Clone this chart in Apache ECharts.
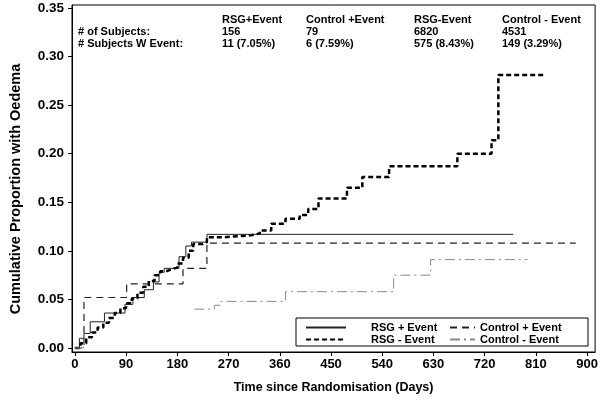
<!DOCTYPE html>
<html>
<head>
<meta charset="utf-8">
<script src="https://cdn.jsdelivr.net/npm/echarts@6/dist/echarts.min.js"></script>
<style>
  html, body { margin: 0; padding: 0; background: #fff; }
  #main { width: 601px; height: 400px; }
</style>
</head>
<body>
<div id="main"></div>
<script>
// axis ticks
var xTicks = [0, 90, 180, 270, 360, 450, 540, 630, 720, 810, 900];
var yTicks = [0, 0.05, 0.10, 0.15, 0.20, 0.25, 0.30, 0.35];

// RSG + Event
var rsgPosDays = [0, 8, 16, 27, 52, 88, 102, 122, 138, 148, 157, 183, 195, 205, 232, 770];
var rsgPosProp = [0, 0.010, 0.015, 0.027, 0.036, 0.045, 0.052, 0.060, 0.068, 0.078, 0.082, 0.094, 0.105, 0.109, 0.117, 0.117];

// RSG - Event
var rsgNegDays = [0, 10, 20, 30, 40, 50, 60, 70, 80, 90, 100, 110, 120, 130, 140, 150, 160, 170, 180, 190, 200, 208, 225, 232, 260, 310, 325, 345, 370, 395, 410, 428, 478, 505, 552, 672, 732, 744, 825];
var rsgNegProp = [0, 0.005, 0.011, 0.016, 0.021, 0.026, 0.031, 0.036, 0.041, 0.046, 0.051, 0.057, 0.063, 0.069, 0.075, 0.079, 0.081, 0.083, 0.087, 0.093, 0.100, 0.107, 0.109, 0.114, 0.116, 0.118, 0.121, 0.128, 0.133, 0.137, 0.143, 0.154, 0.165, 0.176, 0.187, 0.200, 0.214, 0.281, 0.281];

// Control + Event
var ctlPosDays = [0, 16, 91, 190, 232, 880];
var ctlPosProp = [0, 0.052, 0.066, 0.082, 0.108, 0.108];

// Control - Event (faint in the scan between ~day 15 and ~day 210, so left as a gap)
var ctlNegDays = [0, 15, 16, 210, 245, 255, 370, 560, 625, 795];
var ctlNegProp = [0, 0.010, null, 0.040, 0.044, 0.048, 0.058, 0.075, 0.091, 0.091];

// table at top left
var groups = ['RSG+Event', 'Control +Event', 'RSG-Event', 'Control - Event'];
var nSubjects = ['156', '79', '6820', '4531'];
var nEvents = ['11 (7.05%)', '6 (7.59%)', '575 (8.43%)', '149 (3.29%)'];

function pairs(xs, ys) {
  return xs.map(function (d, i) { return [d, ys[i] === null ? '-' : ys[i]]; });
}

var font = 'Liberation Sans';
var colX = [222, 306, 414, 502];
var extras = [];
function addText(x, y, s) {
  extras.push({
    type: 'text', left: x, top: y, z: 10,
    style: { text: s, font: 'bold 11px "' + font + '"', fill: '#000' }
  });
}
addText(78, 26, '# of Subjects:');
addText(78, 38, '# Subjects W Event:');
for (var i = 0; i < groups.length; i++) {
  addText(colX[i], 14, groups[i]);
  addText(colX[i], 26, nSubjects[i]);
  addText(colX[i], 38, nEvents[i]);
}
extras.push({
  type: 'rect', z: 3,
  shape: { x: 296, y: 318, width: 292, height: 28 },
  style: { fill: '#fff', stroke: '#000', lineWidth: 1 }
});
extras.push({
  type: 'text', x: 16, y: 189, rotation: Math.PI / 2, z: 10,
  style: {
    text: 'Cumulative Proportion with Oedema', font: 'bold 14.5px "' + font + '"',
    fill: '#000', align: 'center', verticalAlign: 'middle'
  }
});

var legendText = { fontSize: 11, fontWeight: 'bold', color: '#000', lineHeight: 10 };

var myChart = echarts.init(document.getElementById('main'));
var option = {
  animation: false,
  textStyle: { fontFamily: font },
  grid: {
    left: 72, right: 5, top: 5, bottom: 48,
    show: true, borderColor: '#000', borderWidth: 1
  },
  legend: [
    {
      data: ['RSG + Event', 'RSG - Event'],
      orient: 'vertical', left: 300, top: 317, z: 5,
      itemWidth: 40, itemHeight: 9, itemGap: 1,
      itemStyle: { opacity: 0 },
      textStyle: Object.assign({ padding: [0, 0, 0, 20] }, legendText)
    },
    {
      data: ['Control + Event', 'Control - Event'],
      orient: 'vertical', left: 444, top: 317, z: 5,
      itemWidth: 25, itemHeight: 9, itemGap: 1,
      itemStyle: { opacity: 0 },
      textStyle: Object.assign({ padding: [0, 0, 0, 0] }, legendText)
    }
  ],
  xAxis: {
    type: 'value', min: -5, max: 914,
    name: 'Time since Randomisation (Days)',
    nameLocation: 'middle', nameGap: 29,
    nameTextStyle: { fontSize: 12.5, fontWeight: 'bold', color: '#000' },
    axisLine: { onZero: false, lineStyle: { color: '#000' } },
    axisTick: { show: true, length: 4, customValues: xTicks, lineStyle: { color: '#000' } },
    axisLabel: { customValues: xTicks, fontSize: 13, fontWeight: 'bold', color: '#000', margin: 6 },
    splitLine: { show: false }
  },
  yAxis: {
    type: 'value', min: -0.0041, max: 0.3531,
    axisLine: { onZero: false, lineStyle: { color: '#000' } },
    axisTick: { show: true, length: 4, customValues: yTicks, lineStyle: { color: '#000' } },
    axisLabel: {
      customValues: yTicks, fontSize: 13.5, fontWeight: 'bold', color: '#000', margin: 8,
      formatter: function (v) { return v.toFixed(2); }
    },
    splitLine: { show: false }
  },
  series: [
    {
      name: 'RSG + Event', type: 'line', step: 'end', symbol: 'none',
      itemStyle: { color: '#222' },
      lineStyle: { color: '#222', width: 1, type: 'solid' },
      data: pairs(rsgPosDays, rsgPosProp)
    },
    {
      name: 'RSG - Event', type: 'line', step: 'end', symbol: 'none',
      itemStyle: { color: '#000' },
      lineStyle: { color: '#000', width: 2.5, type: [5, 3] },
      data: pairs(rsgNegDays, rsgNegProp)
    },
    {
      name: 'Control + Event', type: 'line', step: 'end', symbol: 'none',
      itemStyle: { color: '#222' },
      lineStyle: { color: '#222', width: 1.2, type: [7, 5] },
      data: pairs(ctlPosDays, ctlPosProp)
    },
    {
      name: 'Control - Event', type: 'line', step: 'end', symbol: 'none',
      itemStyle: { color: '#888' },
      lineStyle: { color: '#888', width: 1, type: [10, 4, 2, 4] },
      data: pairs(ctlNegDays, ctlNegProp)
    }
  ],
  graphic: extras
};
myChart.setOption(option);
</script>
</body>
</html>
